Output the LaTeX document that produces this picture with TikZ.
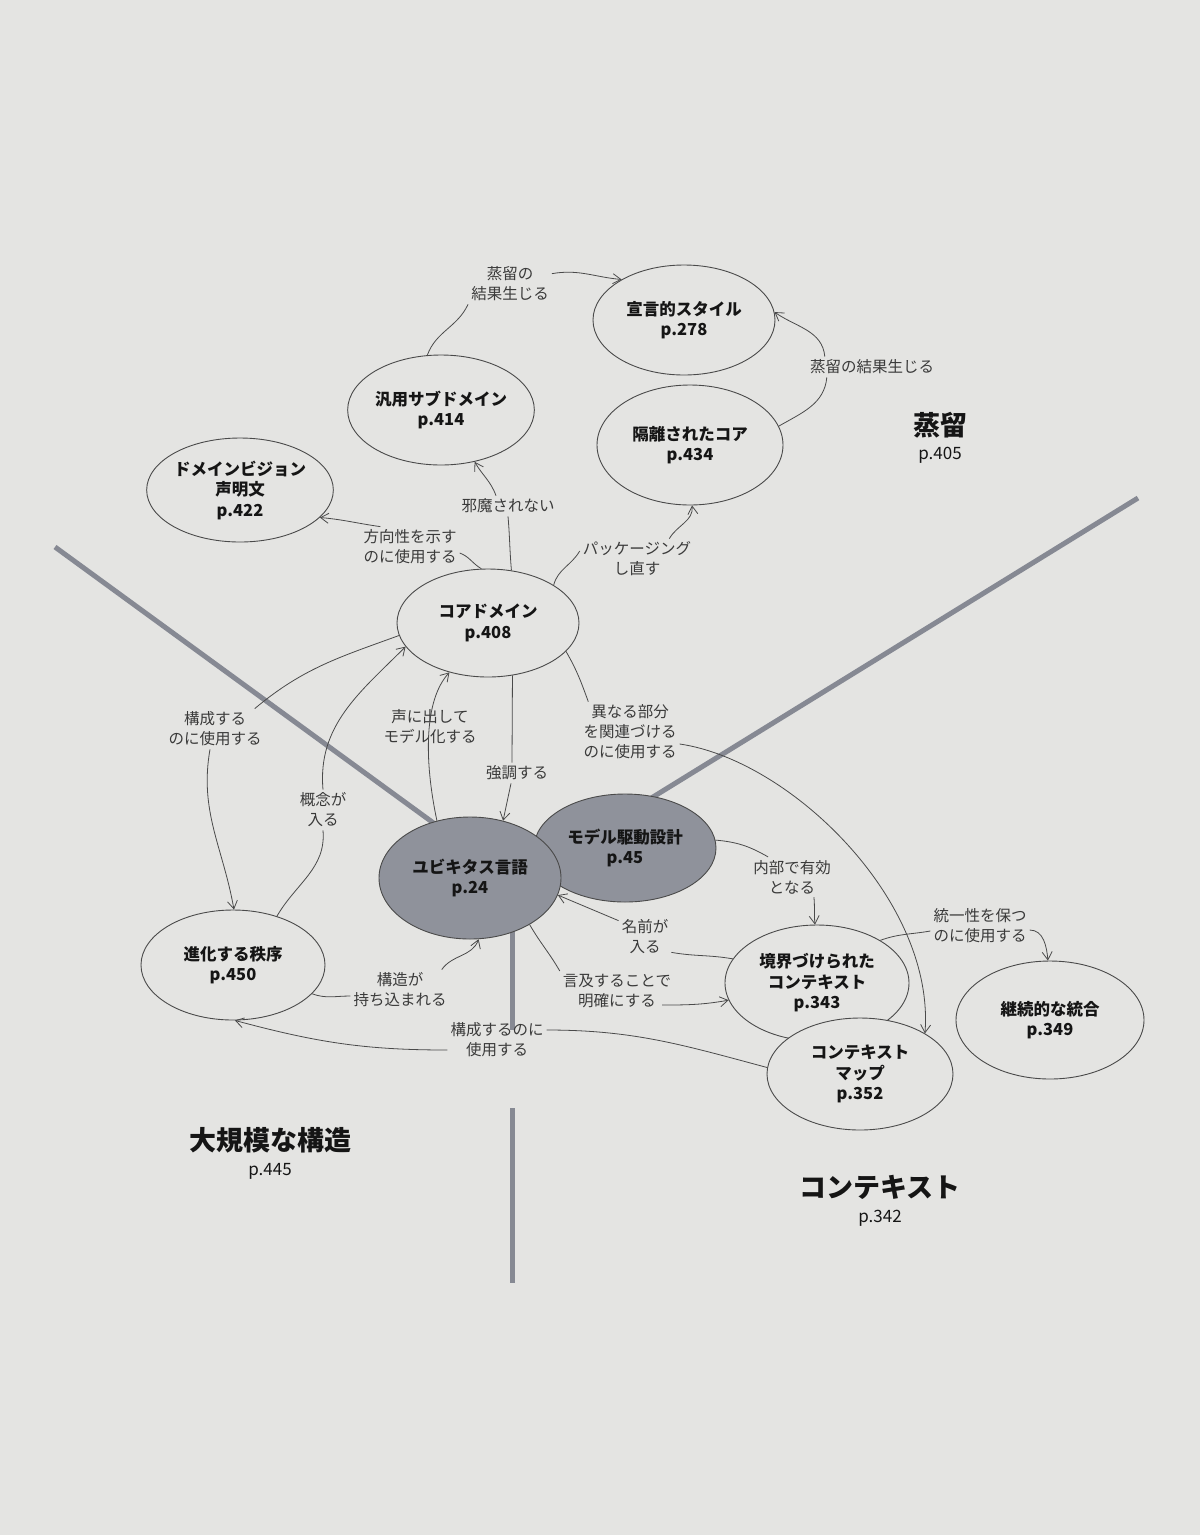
\documentclass[tikz,border=0pt]{standalone}
\usepackage{fontspec}
\setmainfont{Noto Sans CJK JP}
\usetikzlibrary{shapes.geometric,arrows.meta,calc}
\definecolor{paper}{HTML}{E4E4E2}
\definecolor{linec}{HTML}{4A4A4A}
\definecolor{divc}{HTML}{868993}
\definecolor{darkfill}{HTML}{8F929B}
\definecolor{ink}{HTML}{151515}
\definecolor{inktwo}{HTML}{3A3A3A}
\newcommand\ndfont{\fontsize{16.5}{20.5}\selectfont\bfseries}
\newcommand\lbfont{\fontsize{15.5}{20}\selectfont}
\newcommand\ttlfont{\fontsize{27}{32}\selectfont\bfseries}
\newcommand\pgfont{\fontsize{17}{20}\selectfont}
\tikzset{
  ell/.style={ellipse, draw=linec, line width=0.9pt, fill=paper, inner sep=0pt, align=center, font=\ndfont, text=ink},
  ellg/.style={ell, fill=darkfill},
  lab/.style={inner sep=3pt, align=center, font=\lbfont, text=inktwo},
  conn/.style={draw=linec, line width=0.8pt},
  arr/.style={conn, -{Straight Barb[length=8pt,width=10pt]}},
  divider/.style={draw=divc, line width=5pt}
}
\begin{document}
\begin{tikzpicture}[x=1pt,y=-1pt]
\fill[paper] (0,0) rectangle (1200,1535);
\useasboundingbox (0,0) rectangle (1200,1535);

% region dividers
\coordinate (d1a) at (55,547);   \coordinate (d1b) at (450,835);
\coordinate (d2a) at (1138,498); \coordinate (d2b) at (640,805);
\coordinate (d3a) at (512,900);  \coordinate (d3b) at (512,1030);
\coordinate (d3c) at (512,1108); \coordinate (d3d) at (512,1283);
\draw[divider] (d1a) -- (d1b);
\draw[divider] (d2a) -- (d2b);
\draw[divider] (d3a) -- (d3b);
\draw[divider] (d3c) -- (d3d);

% nodes
\node[ell, minimum width=182pt, minimum height=110pt] (decl) at (684,320) {宣言的スタイル\\p.278};
\node[ell, minimum width=184pt, minimum height=110pt] (gen) at (441,410) {汎用サブドメイン\\p.414};
\node[ell, minimum width=186pt, minimum height=120pt] (seg) at (690,445) {隔離されたコア\\p.434};
\node[ell, minimum width=186pt, minimum height=104pt] (vision) at (240,490) {ドメインビジョン\\声明文\\p.422};
\node[ell, minimum width=182pt, minimum height=108pt] (core) at (488,623) {コアドメイン\\p.408};
\node[ell, minimum width=184pt, minimum height=110pt] (evo) at (233,965) {進化する秩序\\p.450};
\node[ell, minimum width=184pt, minimum height=116pt] (bc) at (817,983) {境界づけられた\\コンテキスト\\p.343};
\node[ell, minimum width=186pt, minimum height=112pt] (map) at (860,1074) {コンテキスト\\マップ\\p.352};
\node[ell, minimum width=188pt, minimum height=118pt] (ci) at (1050,1020) {継続的な統合\\p.349};
\node[ellg, minimum width=182pt, minimum height=108pt] (mdd) at (625,848) {モデル駆動設計\\p.45};
\node[ellg, minimum width=182pt, minimum height=122pt] (ubi) at (470,878) {ユビキタス言語\\p.24};

% region titles
\node[font=\ttlfont, text=ink] (t1) at (940,425) {蒸留};
\node[font=\pgfont, text=ink] (t1p) at (940,455) {p.405};
\node[font=\ttlfont, text=ink] (t2) at (270,1140) {大規模な構造};
\node[font=\pgfont, text=ink] (t2p) at (270,1171) {p.445};
\node[font=\ttlfont, text=ink] (t3) at (880,1187) {コンテキスト};
\node[font=\pgfont, text=ink] (t3p) at (880,1218) {p.342};

% edge labels
\node[lab] (la) at (510,284) {蒸留の\\結果生じる};
\node[lab] (lb) at (872,367) {蒸留の結果生じる};
\node[lab] (lc) at (508,506) {邪魔されない};
\node[lab] (ld) at (410,547) {方向性を示す\\のに使用する};
\node[lab] (le) at (637,559) {パッケージング\\し直す};
\node[lab] (lf) at (215,729) {構成する\\のに使用する};
\node[lab] (lg) at (323,810) {概念が\\入る};
\node[lab] (lh) at (430,727) {声に出して\\モデル化する};
\node[lab] (li) at (517,773) {強調する};
\node[lab] (lj) at (630,732) {異なる部分\\を関連づける\\のに使用する};
\node[lab] (lk) at (792,877) {内部で有効\\となる};
\node[lab] (ll) at (645,937) {名前が\\入る};
\node[lab] (lm) at (617,991) {言及することで\\明確にする};
\node[lab] (ln) at (400,990) {構造が\\持ち込まれる};
\node[lab] (lo) at (497,1040) {構成するのに\\使用する};
\node[lab] (lp) at (980,926) {統一性を保つ\\のに使用する};

% connectors
% a: gen -> decl
\draw[conn] (gen.104) to[out=70,in=-115] (la.south west);
\draw[arr] ([yshift=-10pt]la.north east) to[out=10,in=175] (decl.147);
% b: seg -> decl
\draw[conn] (seg.12) to[out=30,in=-95] ([xshift=20pt]lb.south west);
\draw[arr] ([xshift=18pt]lb.north west) to[out=95,in=-35] (decl.5);
% c: core -> gen
\draw[conn] (core.66) to[out=95,in=-85] (lc.south);
\draw[arr] ([xshift=-12pt]lc.north) to[out=110,in=-60] (gen.-57);
% d: core -> vision
\draw[conn] (core.97) to[out=150,in=-20] ([yshift=-6pt]ld.east);
\draw[arr] ([xshift=20pt]ld.north west) to[out=172,in=-5] (vision.-19);
% e: core -> seg
\draw[conn] (core.30) to[out=75,in=-120] ([yshift=8pt]le.west);
\draw[arr] ([xshift=-25pt]le.north east) to[out=60,in=-85] (seg.-88);
% f: core -> evo
\draw[conn] (core.188) to[out=200,in=40] ([xshift=-10pt]lf.north east);
\draw[arr] ([xshift=-5pt]lf.south) to[out=-100,in=100] (evo.89);
% g: evo -> core
\draw[conn] (evo.48) to[out=60,in=-85] (lg.south);
\draw[arr] (lg.north) to[out=95,in=225] (core.196);
% h: ubi -> core
\draw[arr] (ubi.120) .. controls (424,760) and (424,700) .. (core.232);
% i: core -> ubi
\draw[conn] (core.-65) -- ([xshift=-5pt]li.north);
\draw[arr] ([xshift=-6pt]li.south) -- (ubi.60);
% j: core -> map
\draw[conn] (core.-20) to[out=-60,in=110] ([xshift=8pt]lj.north west);
\draw[arr] ([yshift=-12pt]lj.east) .. controls (790,760) and (935,900) .. (map.32);
% k: mdd -> bc
\draw[conn] (mdd.5) to[out=-5,in=150] ([xshift=18pt]lk.north west);
\draw[arr] ([xshift=-20pt]lk.south east) to[out=-85,in=95] (bc.92);
% l: bc -> ubi
\draw[conn] (bc.164) to[out=170,in=-10] ([yshift=5pt]ll.south east);
\draw[arr] ([yshift=-4pt]ll.north west) -- (ubi.-11);
% m: ubi -> bc
\draw[conn] (ubi.-38) to[out=-60,in=120] (lm.north west);
\draw[arr] ([xshift=-12pt,yshift=6pt]lm.south east) to[out=0,in=190] (bc.191);
% n: evo -> ubi
\draw[conn] (evo.-20) to[out=-20,in=180] ([yshift=-6pt]ln.west);
\draw[arr] ([xshift=-8pt]ln.north east) to[out=55,in=-110] (ubi.-82);
% o: map -> evo
\draw[conn] (map.176) to[out=165,in=0] ([yshift=10pt]lo.east);
\draw[arr] ([yshift=-10pt]lo.west) to[out=180,in=-15] (evo.-88);
% p: bc -> ci
\draw[conn] (bc.34) to[out=20,in=190] ([yshift=-5pt]lp.west);
\draw[arr] ([yshift=-4pt]lp.east) to[out=0,in=95] (ci.92);
\end{tikzpicture}
\end{document}
